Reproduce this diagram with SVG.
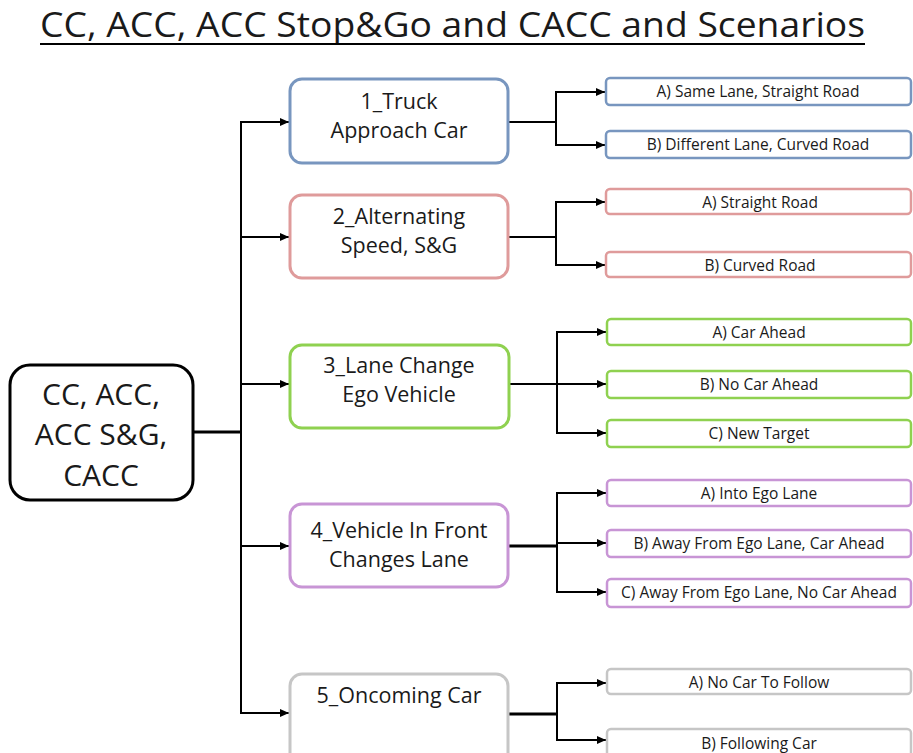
<svg xmlns="http://www.w3.org/2000/svg" width="913" height="753" viewBox="0 0 913 753">
  <style>
    text { font-family: "Open Sans", "Noto Sans", "Liberation Sans", sans-serif; fill: #1a1a1a; text-anchor: middle; }
    .title { font-size: 34px; text-anchor: start; }
    .root-label { font-size: 30px; }
    .l1 { font-size: 21.5px; }
    .l2 { font-size: 15.5px; }
    .root { fill: #fff; stroke: #000; stroke-width: 3; }
    .box1 { fill: #fff; stroke-width: 3; }
    .box2 { fill: #fff; stroke-width: 2.5; }
    .blue { stroke: #7896bf; }
    .red { stroke: #df9b9b; }
    .green { stroke: #8fd150; }
    .purple { stroke: #c895d5; }
    .gray { stroke: #c6c6c6; }
    .wire { fill: none; stroke: #000; stroke-width: 2; }
    .wire-thick { fill: none; stroke: #000; stroke-width: 3; }
    .arrow { fill: none; stroke: #000; stroke-width: 2; marker-end: url(#head); }
  </style>
  <defs>
    <marker id="head" markerUnits="userSpaceOnUse" markerWidth="10" markerHeight="10" refX="9" refY="5" orient="auto">
      <path d="M0,1 L9,5 L0,9 Z" fill="#000"/>
    </marker>
  </defs>

  <rect width="913" height="753" fill="#fff"/>

  <!-- heading -->
  <g id="title">
    <text class="title" x="40" y="37" textLength="825" lengthAdjust="spacingAndGlyphs">CC, ACC, ACC Stop&amp;Go and CACC and Scenarios</text>
    <line x1="40" y1="44" x2="865" y2="44" stroke="#000" stroke-width="2"/>
  </g>

  <!-- connectors -->
  <g id="connectors">
    <!-- root to scenario trunk -->
    <line class="wire-thick" x1="193" y1="432" x2="242" y2="432"/>
    <line class="wire" x1="241" y1="121" x2="241" y2="714"/>
    <path class="arrow" d="M240,122 H289"/>
    <path class="arrow" d="M240,237 H289"/>
    <path class="arrow" d="M240,384 H289"/>
    <path class="arrow" d="M240,546 H289"/>
    <path class="arrow" d="M240,713 H289"/>

    <!-- scenario 1 -->
    <line class="wire" x1="508" y1="122" x2="556" y2="122"/>
    <line class="wire" x1="556" y1="91" x2="556" y2="146"/>
    <path class="arrow" d="M555,92 H605"/>
    <path class="arrow" d="M555,145 H605"/>

    <!-- scenario 2 -->
    <line class="wire" x1="508" y1="237" x2="556" y2="237"/>
    <line class="wire" x1="556" y1="201" x2="556" y2="266"/>
    <path class="arrow" d="M555,202 H605"/>
    <path class="arrow" d="M555,265 H605"/>

    <!-- scenario 3 -->
    <line class="wire" x1="510" y1="384" x2="557" y2="384"/>
    <line class="wire" x1="557" y1="331" x2="557" y2="434"/>
    <path class="arrow" d="M556,332 H606"/>
    <path class="arrow" d="M556,384 H606"/>
    <path class="arrow" d="M556,433 H606"/>

    <!-- scenario 4 -->
    <line class="wire-thick" x1="509" y1="546" x2="557" y2="546"/>
    <line class="wire" x1="557" y1="492" x2="557" y2="593"/>
    <path class="arrow" d="M556,493 H606"/>
    <path class="arrow" d="M556,543 H606"/>
    <path class="arrow" d="M556,592 H606"/>

    <!-- scenario 5 -->
    <line class="wire-thick" x1="509" y1="714" x2="557" y2="714"/>
    <line class="wire" x1="557" y1="682" x2="557" y2="741"/>
    <path class="arrow" d="M556,683 H606"/>
    <path class="arrow" d="M556,740 H606"/>
  </g>

  <!-- root node -->
  <g id="root">
    <rect class="root" x="10" y="365" width="183" height="135" rx="20"/>
    <text class="root-label" x="101" y="405">CC, ACC,</text>
    <text class="root-label" x="101" y="445">ACC S&amp;G,</text>
    <text class="root-label" x="101" y="486">CACC</text>
  </g>

  <!-- scenario 1 -->
  <g id="s1">
    <rect class="box1 blue" x="290" y="79" width="218" height="84" rx="12"/>
    <text class="l1" x="399" y="109">1_Truck</text>
    <text class="l1" x="399" y="138">Approach Car</text>
  </g>
  <g id="s1a">
    <rect class="box2 blue" x="606" y="78" width="305" height="27" rx="4"/>
    <text class="l2" x="758" y="97">A) Same Lane, Straight Road</text>
  </g>
  <g id="s1b">
    <rect class="box2 blue" x="606" y="131" width="305" height="27" rx="4"/>
    <text class="l2" x="758" y="150">B) Different Lane, Curved Road</text>
  </g>

  <!-- scenario 2 -->
  <g id="s2">
    <rect class="box1 red" x="290" y="195" width="218" height="83" rx="12"/>
    <text class="l1" x="399" y="224">2_Alternating</text>
    <text class="l1" x="399" y="253">Speed, S&amp;G</text>
  </g>
  <g id="s2a">
    <rect class="box2 red" x="606" y="189" width="305" height="25" rx="4"/>
    <text class="l2" x="760" y="208">A) Straight Road</text>
  </g>
  <g id="s2b">
    <rect class="box2 red" x="606" y="252" width="305" height="25" rx="4"/>
    <text class="l2" x="760" y="271">B) Curved Road</text>
  </g>

  <!-- scenario 3 -->
  <g id="s3">
    <rect class="box1 green" x="290" y="345" width="219" height="83" rx="12"/>
    <text class="l1" x="399" y="373">3_Lane Change</text>
    <text class="l1" x="399" y="402">Ego Vehicle</text>
  </g>
  <g id="s3a">
    <rect class="box2 green" x="607" y="319" width="304" height="26" rx="4"/>
    <text class="l2" x="759" y="338">A) Car Ahead</text>
  </g>
  <g id="s3b">
    <rect class="box2 green" x="607" y="371" width="304" height="27" rx="4"/>
    <text class="l2" x="759" y="390">B) No Car Ahead</text>
  </g>
  <g id="s3c">
    <rect class="box2 green" x="607" y="420" width="304" height="27" rx="4"/>
    <text class="l2" x="759" y="439">C) New Target</text>
  </g>

  <!-- scenario 4 -->
  <g id="s4">
    <rect class="box1 purple" x="290" y="504" width="218" height="83" rx="12"/>
    <text class="l1" x="399" y="538">4_Vehicle In Front</text>
    <text class="l1" x="399" y="567">Changes Lane</text>
  </g>
  <g id="s4a">
    <rect class="box2 purple" x="607" y="480" width="304" height="26" rx="4"/>
    <text class="l2" x="759" y="499">A) Into Ego Lane</text>
  </g>
  <g id="s4b">
    <rect class="box2 purple" x="607" y="530" width="304" height="27" rx="4"/>
    <text class="l2" x="759" y="549">B) Away From Ego Lane, Car Ahead</text>
  </g>
  <g id="s4c">
    <rect class="box2 purple" x="607" y="579" width="304" height="28" rx="4"/>
    <text class="l2" x="759" y="598">C) Away From Ego Lane, No Car Ahead</text>
  </g>

  <!-- scenario 5 -->
  <g id="s5">
    <rect class="box1 gray" x="290" y="674" width="218" height="95" rx="12"/>
    <text class="l1" x="399" y="703">5_Oncoming Car</text>
  </g>
  <g id="s5a">
    <rect class="box2 gray" x="607" y="669" width="304" height="25" rx="4"/>
    <text class="l2" x="759" y="688">A) No Car To Follow</text>
  </g>
  <g id="s5b">
    <rect class="box2 gray" x="607" y="729" width="304" height="35" rx="4"/>
    <text class="l2" x="759" y="749">B) Following Car</text>
  </g>
</svg>
